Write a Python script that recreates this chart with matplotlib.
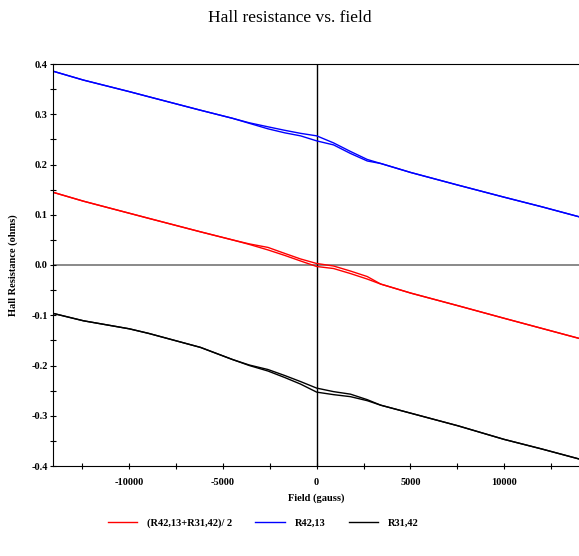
import matplotlib.pyplot as plt
import numpy as np

plt.rcParams['axes.unicode_minus'] = False

# field sweep (gauss)
field = [-14100, -12450, -10000, -8980, -6200, -4500, -3600, -2600, -1700, -860,
         0, 900, 1800, 2700, 3420, 5030, 7540, 10000, 12000, 14000]

# R42,13 : two sweep branches
r4213_a = [0.386, 0.368, 0.345, 0.335, 0.308, 0.292, 0.283, 0.275, 0.268, 0.262,
           0.257, 0.243, 0.226, 0.210, 0.202, 0.184, 0.159, 0.135, 0.116, 0.096]
r4213_b = [0.386, 0.368, 0.345, 0.335, 0.308, 0.292, 0.282, 0.271, 0.263, 0.257,
           0.247, 0.239, 0.222, 0.207, 0.202, 0.184, 0.159, 0.135, 0.116, 0.096]

# (R42,13+R31,42)/2
avg_a = [0.145, 0.127, 0.103, 0.093, 0.066, 0.050, 0.042, 0.035, 0.023, 0.012,
         0.003, -0.002, -0.012, -0.023, -0.038, -0.056, -0.081, -0.106, -0.126, -0.146]
avg_b = [0.145, 0.127, 0.103, 0.093, 0.066, 0.050, 0.041, 0.030, 0.019, 0.008,
         -0.003, -0.007, -0.017, -0.028, -0.038, -0.056, -0.081, -0.106, -0.126, -0.146]

# R31,42
r3142_a = [-0.096, -0.111, -0.127, -0.136, -0.164, -0.188, -0.199, -0.208, -0.220, -0.232,
           -0.245, -0.252, -0.257, -0.268, -0.279, -0.295, -0.320, -0.347, -0.366, -0.386]
r3142_b = [-0.096, -0.111, -0.127, -0.136, -0.164, -0.188, -0.200, -0.211, -0.224, -0.237,
           -0.253, -0.258, -0.262, -0.270, -0.279, -0.295, -0.320, -0.347, -0.366, -0.386]

labels = ['(R42,13+R31,42)/ 2', 'R42,13', 'R31,42']
colors = ['#ff0000', '#0000ff', '#000000']
yticks = [-0.4, -0.3, -0.2, -0.1, 0.0, 0.1, 0.2, 0.3, 0.4]
ytick_labels = ['-0.4', '-0.3', '-0.2', '-0.1', '0.0', '0.1', '0.2', '0.3', '0.4']

serif = ['Liberation Serif', 'DejaVu Serif']

fig = plt.figure(figsize=(5.79, 5.56), dpi=100)
left = 52.5 / 579
ax = fig.add_axes([left, 1 - 466 / 556, 1 - left, (466 - 64) / 556])

ax.axhline(0, color='#808080', lw=1.3, zorder=1)
ax.axvline(0, color='black', lw=1.0, zorder=1)

series = [(avg_a, avg_b), (r4213_a, r4213_b), (r3142_a, r3142_b)]
for (ya, yb), c, lab in zip(series, colors, labels):
    ax.plot(field, ya, color=c, lw=1.0, label=lab, zorder=2)
    ax.plot(field, yb, color=c, lw=1.0, zorder=2)

ax.set_xlim(-14100, 14000)
ax.set_ylim(-0.4, 0.4)
ax.set_xticks([-10000, -5000, 0, 5000, 10000])
ax.set_xticklabels(['-10000', '-5000', '0', '5000', '10000'])
ax.set_xticks(np.arange(-12500, 14000, 2500), minor=True)
ax.set_yticks(yticks)
ax.set_yticklabels(ytick_labels)
ax.set_yticks(np.arange(-0.35, 0.4, 0.1), minor=True)
ax.tick_params(which='both', direction='inout', length=5, width=0.8)
ax.tick_params(axis='x', pad=6)
ax.tick_params(axis='y', pad=1)
ax.spines['right'].set_visible(False)

for t in ax.get_xticklabels() + ax.get_yticklabels():
    t.set_family(serif)
    t.set_fontweight('bold')
    t.set_fontsize(7.5)

ax.set_xlabel('Field (gauss)', family=serif, fontweight='bold', fontsize=7.5, labelpad=5)
ax.set_ylabel('Hall Resistance (ohms)', family=serif, fontweight='bold', fontsize=7.5)
ax.yaxis.set_label_coords((18 - 52.5) / (579 - 52.5), 0.5)
fig.text(0.5, 1 - 18 / 556, 'Hall resistance vs. field', ha='center', va='center',
         family=serif, fontsize=12.5)

leg = fig.legend(loc='center', bbox_to_anchor=(0.455, 1 - 523 / 556), ncol=3,
                 frameon=False, handlelength=2.8, columnspacing=2.2, handletextpad=1.0,
                 prop={'family': serif, 'weight': 'bold', 'size': 7.5})

fig.savefig('out.png', dpi=100)
